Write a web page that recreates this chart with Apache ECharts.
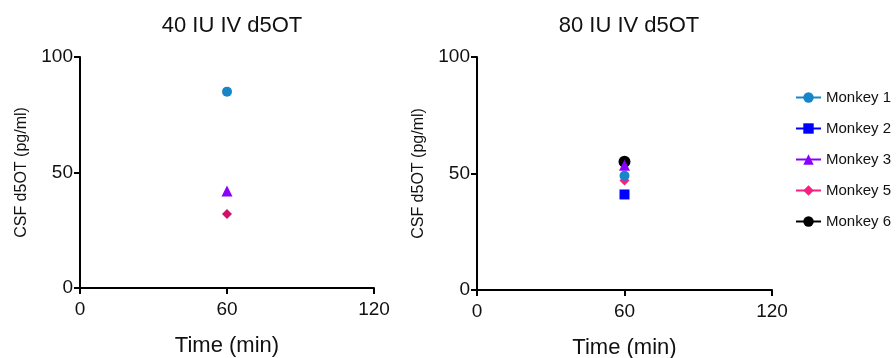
<!DOCTYPE html>
<html>
<head>
<meta charset="utf-8">
<script src="https://cdn.jsdelivr.net/npm/echarts@6/dist/echarts.min.js"></script>
<style>
  html, body { margin: 0; padding: 0; background: #fff; }
  #chart { width: 896px; height: 358px; }
</style>
</head>
<body>
<div id="chart"></div>
<script>
// time points (min)
const TIMES = [60];
const MONKEYS = ['Monkey 1', 'Monkey 2', 'Monkey 3', 'Monkey 5', 'Monkey 6'];
const COLORS = ['#1686c8', '#0000ff', '#8a00ff', '#f5207f', '#000000'];
const SYMBOLS = ['circle', 'rect', 'triangle', 'diamond', 'circle'];
const SIZES = [10, 10, 11, 10, 12];
const LAYER = [3, 5, 4, 2, 1];

// CSF d5OT (pg/ml) at 60 min, per monkey (null = not measured)
const DOSE_40 = [85, null, 42, 32, null];
const DOSE_80 = [49, 41, 53.5, 47, 55];

const TITLES = ['40 IU IV d5OT', '80 IU IV d5OT'];

const chart = echarts.init(document.getElementById('chart'));
const FONT = 'Liberation Sans, Arial, sans-serif';

function xAxis(i) {
  return {
    type: 'value', gridIndex: i, min: 0, max: 120, interval: 60,
    name: 'Time (min)', nameLocation: 'middle', nameGap: 47,
    nameTextStyle: { fontSize: 22, color: '#111', fontFamily: FONT },
    axisLine: { lineStyle: { color: '#000', width: 2 } },
    axisTick: { length: 6, lineStyle: { color: '#000', width: 2 } },
    axisLabel: { fontSize: 19, color: '#111', fontFamily: FONT, margin: 12 },
    splitLine: { show: false }
  };
}
function yAxis(i) {
  return {
    type: 'value', gridIndex: i, min: 0, max: 100, interval: 50,
    name: 'CSF d5OT (pg/ml)', nameLocation: 'middle', nameGap: 50,
    nameTextStyle: { fontSize: 16, color: '#111', fontFamily: FONT },
    axisLine: { show: true, lineStyle: { color: '#000', width: 2 } },
    axisTick: { show: true, length: 6, lineStyle: { color: '#000', width: 2 } },
    axisLabel: { fontSize: 19, color: '#111', fontFamily: FONT, margin: 7 },
    splitLine: { show: false }
  };
}

const series = [];
[DOSE_40, DOSE_80].forEach((vals, g) => {
  MONKEYS.forEach((name, k) => {
    if (vals[k] == null) return;
    series.push({
      name: name, type: 'line', xAxisIndex: g, yAxisIndex: g,
      data: TIMES.map(t => [t, vals[k]]),
      symbol: SYMBOLS[k], symbolSize: SIZES[k],
      itemStyle: { color: (g === 0 && k === 3) ? '#d0106a' : COLORS[k] },
      lineStyle: { color: COLORS[k], width: 2 },
      z: 2 + LAYER[k]
    });
  });
});

chart.setOption({
  animation: false,
  backgroundColor: '#fff',
  title: TITLES.map((t, i) => ({
    text: t, left: i === 0 ? 227 : 624, top: 10, textAlign: 'center',
    textStyle: { fontSize: 22, fontWeight: 'normal', color: '#111', fontFamily: FONT }
  })),
  grid: [
    { left: 80, top: 57, width: 294, height: 231, outerBoundsMode: 'none' },
    { left: 477, top: 57, width: 295, height: 233, outerBoundsMode: 'none' }
  ],
  xAxis: [xAxis(0), xAxis(1)],
  yAxis: [yAxis(0), yAxis(1)],
  legend: {
    orient: 'vertical', left: 790, top: 85, itemGap: 16,
    itemWidth: 25, itemHeight: 13,
    data: MONKEYS.map((n, k) => ({ name: n, itemStyle: { color: COLORS[k] } })),
    textStyle: { fontSize: 15, color: '#111', fontFamily: FONT }
  },
  series: series
});
</script>
</body>
</html>
